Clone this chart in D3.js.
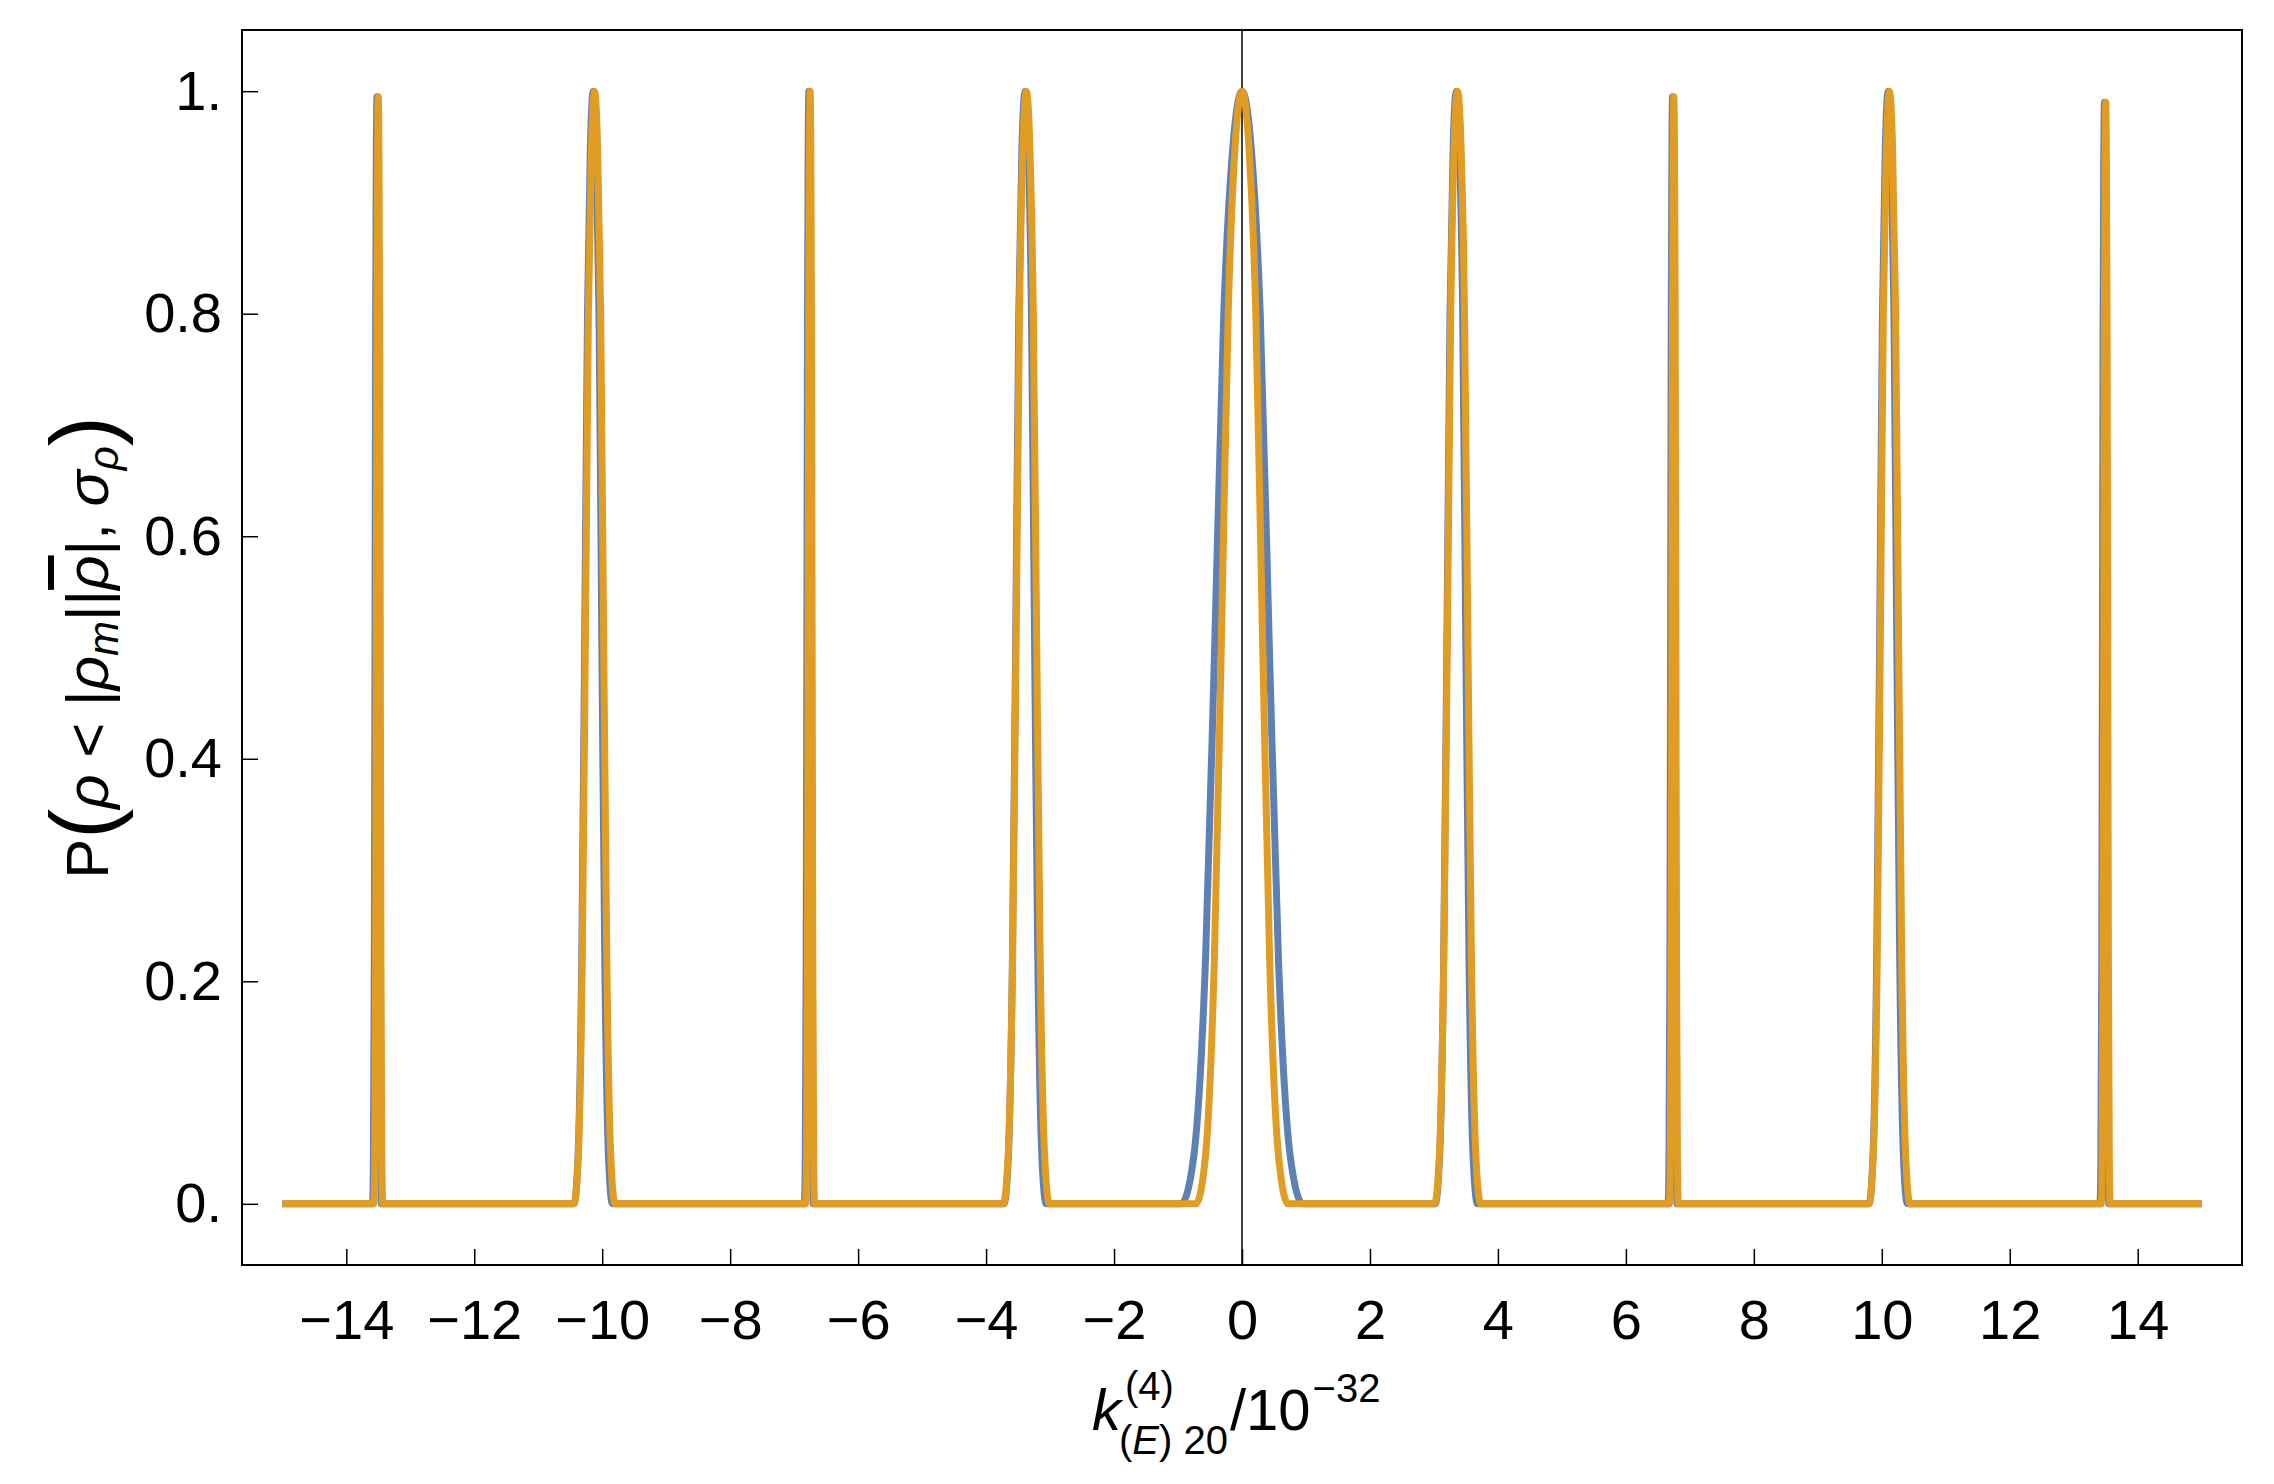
<!DOCTYPE html><html><head><meta charset="utf-8">
<script src="https://cdn.jsdelivr.net/npm/d3@7"></script>
<style>body{margin:0;background:#fff}text{font-family:"Liberation Sans",Arial,sans-serif}</style></head>
<body><svg id="c" width="2274" height="1484"></svg>
<script>
// peak centers and half-widths
const blueCenters=[-13.5,-10.12,-6.75,-3.37,0,3.37,6.75,10.12,13.5];
const blueHalfW=[0.07,0.3,0.07,0.33,0.95,0.33,0.07,0.3,0.07];
const blueShift=[-0.02,-0.02,-0.02,-0.02,0,-0.02,-0.02,-0.02,-0.02];
const orangeCenters=[-13.5,-10.12,-6.75,-3.37,0,3.37,6.75,10.12,13.5];
const orangeHalfW=[0.07,0.32,0.07,0.36,0.72,0.36,0.07,0.32,0.07];
const peakHeight=[0.995,1,1,1,1,1,0.995,1,0.99];
// normalized peak profile (offset relative to half-width, value)
const profileX=[-1,-0.8,-0.6,-0.45,-0.3,-0.15,0,0.15,0.3,0.45,0.6,0.8,1];
const profileY=[0,0.04,0.22,0.5,0.8,0.95,1,0.95,0.8,0.5,0.22,0.04,0];
const xTicks=[-14,-12,-10,-8,-6,-4,-2,0,2,4,6,8,10,12,14];
const yTicks=[0,0.2,0.4,0.6,0.8,1];
const yTickLabels=["0.","0.2","0.4","0.6","0.8","1."];
const xRange=[-15,15];

const svg=d3.select("#c");
const L=242,R=2242,T=30,B=1265;
const x=d3.scaleLinear().domain([-15.63,15.63]).range([L,R]);
const y=d3.scaleLinear().domain([-0.055,1.055]).range([B,T]);

function build(centers,hw,shift){
  const pts=[[xRange[0],0]];
  centers.forEach((c,i)=>{
    const s=shift?shift[i]:0;
    profileX.forEach((px,j)=>pts.push([c+s+px*hw[i],profileY[j]*peakHeight[i]]));
  });
  pts.push([xRange[1],0]);
  return pts;
}
const line=d3.line().x(d=>x(d[0])).y(d=>y(d[1])).curve(d3.curveMonotoneX);
svg.append("line").attr("x1",x(0)).attr("x2",x(0)).attr("y1",T).attr("y2",B).attr("stroke","#000").attr("stroke-width",1.5);
svg.append("path").attr("d",line(build(blueCenters,blueHalfW,blueShift))).attr("fill","none").attr("stroke","#5E81B5").attr("stroke-width",7).attr("stroke-linejoin","round");
svg.append("path").attr("d",line(build(orangeCenters,orangeHalfW))).attr("fill","none").attr("stroke","#E19C24").attr("stroke-width",7).attr("stroke-linejoin","round");

svg.append("rect").attr("x",L).attr("y",T).attr("width",R-L).attr("height",B-T).attr("fill","none").attr("stroke","#000").attr("stroke-width",2);
const xa=svg.append("g").attr("transform",`translate(0,${B})`).call(d3.axisBottom(x).tickValues(xTicks).tickSizeInner(-16).tickSizeOuter(0).tickPadding(34).tickFormat(d=>d<0?"\u2212"+(-d):d));
const ya=svg.append("g").attr("transform",`translate(${L},0)`).call(d3.axisLeft(y).tickValues(yTicks).tickSizeInner(-16).tickSizeOuter(0).tickPadding(20).tickFormat((d,i)=>yTickLabels[i]));
[xa,ya].forEach(a=>{a.select(".domain").remove();a.selectAll("line").attr("stroke","#000").attr("stroke-width",1.5);a.selectAll("text").attr("font-size",56).attr("fill","#000").attr("font-family","Liberation Sans, Arial, sans-serif");});
xa.selectAll("text").attr("dy","0.71em");

// x label, pieces
const bx=x(0)-150, by=1430;
const k=svg.append("text").attr("x",bx).attr("y",by).attr("font-size",58).attr("font-style","italic").text("k");
const kw=k.node().getComputedTextLength()+4;
const sup=svg.append("text").attr("x",bx+kw).attr("y",by-30).attr("font-size",40).text("(4)");
const sub=svg.append("text").attr("x",bx+kw-6).attr("y",by+24).attr("font-size",40);
sub.append("tspan").text("(");
sub.append("tspan").attr("font-style","italic").text("E");
sub.append("tspan").text(") 20");
const sw=Math.max(sup.node().getComputedTextLength(),sub.node().getComputedTextLength()+-6);
const rest=svg.append("text").attr("x",bx+kw+sw+2).attr("y",by).attr("font-size",58).text("/10");
const rw=rest.node().getComputedTextLength();
svg.append("text").attr("x",bx+kw+sw+2+rw+2).attr("y",by-28).attr("font-size",40).text("\u221232");

// y label
const yl=svg.append("text").attr("transform",`translate(108,${(T+B)/2}) rotate(-90)`).attr("text-anchor","middle").attr("font-size",60);
yl.append("tspan").text("P");
yl.append("tspan").attr("font-size",90).attr("dy",6).text("(");
yl.append("tspan").attr("font-style","italic").attr("dy",-6).text("\u03C1");
yl.append("tspan").text(" < |");
yl.append("tspan").attr("font-style","italic").text("\u03C1");
yl.append("tspan").attr("font-style","italic").attr("font-size",42).attr("dy",10).text("m");
yl.append("tspan").attr("dy",-10).text("||");
yl.append("tspan").attr("font-style","italic").attr("text-decoration","overline").text("\u03C1");
yl.append("tspan").text("|, ");
yl.append("tspan").attr("font-style","italic").text("\u03C3");
yl.append("tspan").attr("font-style","italic").attr("font-size",42).attr("dy",10).text("\u03C1");
yl.append("tspan").attr("font-size",90).attr("dy",-4).text(")");
</script></body></html>
